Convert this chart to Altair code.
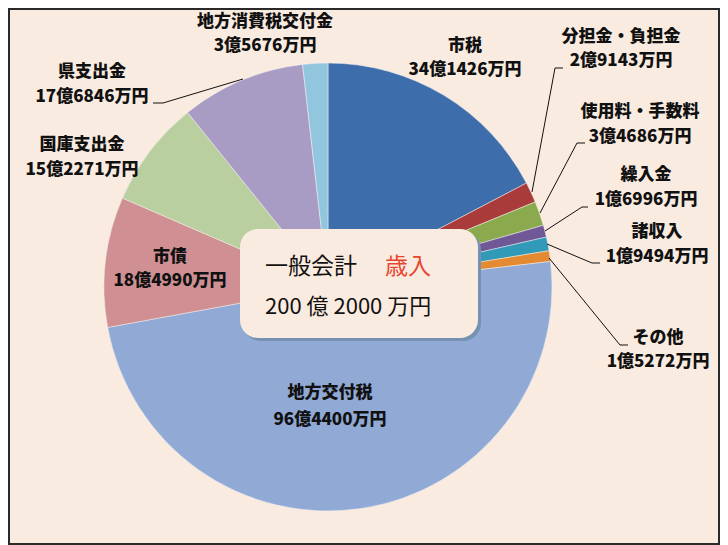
import altair as alt
import pandas as pd

# ---- data (万円) ----
names = ["市税", "分担金・負担金", "使用料・手数料", "繰入金", "諸収入", "その他",
         "地方交付税", "市債", "国庫支出金", "県支出金", "地方消費税交付金"]
values = [341426, 29143, 34686, 16996, 19494, 15272,
          964400, 184990, 152271, 176846, 35676]
amount_labels = ["34億1426万円", "2億9143万円", "3億4686万円", "1億6996万円", "1億9494万円",
                 "1億5272万円", "96億4400万円", "18億4990万円", "15億2271万円",
                 "17億6846万円", "3億5676万円"]
colors = ["#3E6DAB", "#A93B3A", "#8BAA4E", "#705896", "#319AB8", "#E48A32",
          "#90A9D5", "#D09093", "#B9CF9F", "#A89CC4", "#92C6DF"]

title_left = "一般会計"
title_right = "歳入"
total_label = "200 億 2000 万円"

# ---- layout (page px, converted to chart px by subtracting margin) ----
M = 8
label_x = [465, 621, 640, 646, 657, 658, 330, 170, 82, 92, 265]
label_y1 = [46, 37, 112, 175, 232, 338, 393, 257, 145, 72, 22]
label_y2 = [70, 61, 137, 200, 257, 362, 420, 281, 170, 97, 46]

leader_names = ["県支出金", "分担金・負担金", "使用料・手数料", "繰入金", "諸収入", "その他"]
leader_pts = [
    [(153, 103), (163, 103), (243, 79)],
    [(563, 68), (555, 68), (532, 192)],
    [(585, 143), (577, 143), (540, 213)],
    [(588, 207), (582, 207), (545, 231)],
    [(600, 263), (592, 263), (547, 244)],
    [(628, 345), (620, 345), (549, 258)],
]

W, H = 712, 537
CX, CY, R = 328 - M, 287 - M, 224
FONT = "Noto Sans CJK JP"
BG = "#FAEBE0"

pie_df = pd.DataFrame({"name": names, "value": values, "idx": list(range(len(names)))})

lab_rows = []
for i, n in enumerate(names):
    lab_rows.append({"t": n, "x": label_x[i] - M, "y": label_y1[i] - M})
    lab_rows.append({"t": amount_labels[i], "x": label_x[i] - M, "y": label_y2[i] - M})
lab_df = pd.DataFrame(lab_rows)

lead_rows = []
for g, pts in zip(leader_names, leader_pts):
    for k, (px, py) in enumerate(pts):
        lead_rows.append({"g": g, "k": k, "x": px - M, "y": py - M})
lead_df = pd.DataFrame(lead_rows)

one = alt.Data(values=[{}])

frame_bg = alt.Chart(one).mark_rect(fill=BG, stroke="#2a2a2a", strokeWidth=2).encode(
    x=alt.value(1), x2=alt.value(W - 1), y=alt.value(1), y2=alt.value(H - 1)
)

pie = alt.Chart(pie_df).mark_arc(outerRadius=R, stroke="#F4F0F0", strokeWidth=0.5).encode(
    theta=alt.Theta("value:Q", stack=True),
    color=alt.Color("name:N", scale=alt.Scale(domain=names, range=colors), legend=None),
    order=alt.Order("idx:Q", sort="ascending"),
    x=alt.value(CX), y=alt.value(CY),
)

leaders = alt.Chart(lead_df).mark_line(color="#111111", strokeWidth=1).encode(
    x=alt.X("x:Q", scale=None), y=alt.Y("y:Q", scale=None),
    detail="g:N", order="k:Q",
)

labels = alt.Chart(lab_df).mark_text(font=FONT, fontSize=17, fontWeight=900,
                                     color="#111111", align="center", baseline="middle").encode(
    x=alt.X("x:Q", scale=None), y=alt.Y("y:Q", scale=None), text="t:N"
)

box_shadow = alt.Chart(one).mark_rect(fill="#7592B3", cornerRadius=18).encode(
    x=alt.value(243 - M), x2=alt.value(481 - M), y=alt.value(232 - M), y2=alt.value(341 - M)
)
box = alt.Chart(one).mark_rect(fill="#FAEBE0", cornerRadius=18).encode(
    x=alt.value(240 - M), x2=alt.value(478 - M), y=alt.value(229 - M), y2=alt.value(338 - M)
)
t1 = alt.Chart(one).mark_text(font=FONT, fontSize=23, color="#111111", align="left",
                              baseline="middle", text=title_left).encode(
    x=alt.value(265 - M), y=alt.value(267 - M))
t2 = alt.Chart(one).mark_text(font=FONT, fontSize=23, color="#E8452C", align="left",
                              baseline="middle", text=title_right).encode(
    x=alt.value(385 - M), y=alt.value(267 - M))
t3 = alt.Chart(one).mark_text(font=FONT, fontSize=22, color="#111111", align="left",
                              baseline="middle", text=total_label).encode(
    x=alt.value(265 - M), y=alt.value(307 - M))

chart = alt.layer(frame_bg, pie, leaders, labels, box_shadow, box, t1, t2, t3).properties(
    width=W, height=H, padding=0, autosize=alt.AutoSizeParams(type="none"),
    background="white",
).configure_view(stroke=None)

chart.save("out.html", embed_options={"renderer": "svg", "actions": False})
